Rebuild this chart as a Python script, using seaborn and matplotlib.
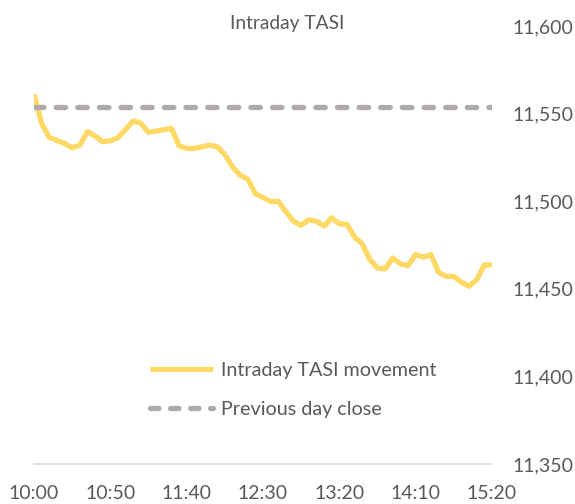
import numpy as np
import pandas as pd
import matplotlib
matplotlib.use("Agg")
import matplotlib.pyplot as plt
import seaborn as sns

# intraday TASI readings, one every 5 minutes
tasi = [11561.0, 11544.4, 11536.4, 11534.7, 11533.0, 11530.5, 11532.0, 11539.7,
        11537.2, 11533.9, 11534.5, 11536.2, 11541.0, 11545.8, 11544.4, 11539.3,
        11540.0, 11540.8, 11541.6, 11531.7, 11530.1, 11530.1, 11531.0, 11532.0,
        11531.1, 11526.7, 11519.6, 11514.9, 11512.6, 11504.3, 11502.1, 11499.9,
        11499.9, 11494.0, 11488.5, 11486.2, 11489.4, 11488.5, 11485.8, 11490.5,
        11487.1, 11486.8, 11479.5, 11475.6, 11466.7, 11461.9, 11461.3, 11467.6,
        11464.2, 11463.2, 11469.6, 11468.0, 11469.6, 11459.4, 11457.1, 11457.1,
        11453.7, 11451.4, 11455.2, 11463.6, 11463.6]
prev_close = 11554
tick_pos = [0, 10, 20, 30, 40, 50, 60]
tick_labels = ["10:00", "10:50", "11:40", "12:30", "13:20", "14:10", "15:20"]
y_ticks = [11350, 11400, 11450, 11500, 11550, 11600]

df = pd.DataFrame({"idx": range(len(tasi)), "tasi": tasi})
df["prev"] = prev_close

sns.set_theme(style="white")
plt.rcParams["font.family"] = ["Lato", "DejaVu Sans"]
txt = "#595959"

fig = plt.figure(figsize=(5.75, 5.04), dpi=100)
ax = fig.add_axes([34 / 575, 1 - 464 / 504, (492 - 34) / 575, (464 - 26) / 504])

sns.lineplot(data=df, x="idx", y="tasi", ax=ax, color="#FFD966", lw=3.8,
             solid_capstyle="butt", label="Intraday TASI movement")
sns.lineplot(data=df, x="idx", y="prev", ax=ax, color="#AEAAAA", lw=3.8,
             dashes=False, label="Previous day close")
ax.lines[1].set_dashes((1.8, 2.3))
ax.lines[1].set_dash_capstyle("round")

ax.set_xlim(0, 60)
ax.set_ylim(11350, 11600)
ax.set_xticks(tick_pos)
ax.set_xticklabels(tick_labels)
ax.set_yticks(y_ticks)
ax.set_yticklabels([f"{v:,}" for v in y_ticks])
ax.yaxis.tick_right()
ax.tick_params(axis="both", length=0, labelsize=14, colors=txt)
ax.tick_params(axis="y", pad=15)
ax.tick_params(axis="x", pad=15)
ax.set_xlabel("")
ax.set_ylabel("")

for s in ["top", "left", "right"]:
    ax.spines[s].set_visible(False)
ax.spines["bottom"].set_color("#D9D9D9")
ax.spines["bottom"].set_linewidth(1.1)

leg = ax.legend(loc="center left", bbox_to_anchor=(150 / 575, 1 - 390 / 504),
                bbox_transform=fig.transFigure, frameon=False, fontsize=14.2,
                handlelength=3.2, handletextpad=0.4, labelspacing=1.1,
                borderpad=0, borderaxespad=0)
for t in leg.get_texts():
    t.set_color(txt)
leg.get_lines()[1].set_dashes((1.6, 2.2))
leg.get_lines()[1].set_dash_capstyle("round")

fig.text(0.5, 1 - 24 / 504, "Intraday TASI", ha="center", va="center",
         fontsize=13.8, color=txt)

fig.savefig("out.png", dpi=100)
